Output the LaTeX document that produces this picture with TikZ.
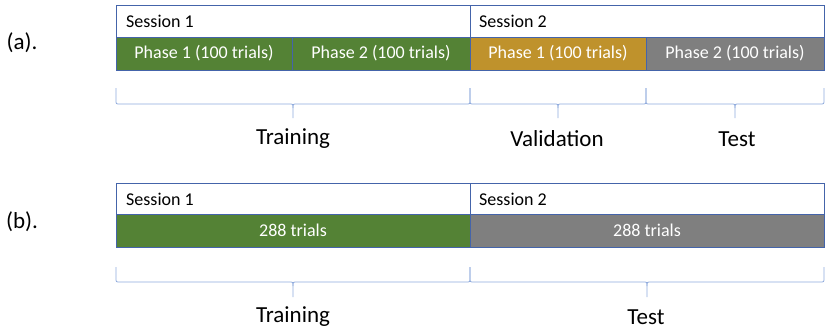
\documentclass[tikz,border=0pt]{standalone}
\usepackage{fontspec}
\setmainfont{Carlito}
\definecolor{cgreen}{RGB}{84,130,53}
\definecolor{cgold}{RGB}{191,146,44}
\definecolor{cgray}{RGB}{127,127,127}
\definecolor{cborder}{RGB}{68,100,170}
\definecolor{cbrace}{RGB}{143,170,220}
\begin{document}
\begin{tikzpicture}[x=1pt,y=-1pt,
  cell/.style={draw=cborder, line width=0.8pt, anchor=north west, inner sep=0pt, outer sep=0pt},
  sess/.style={cell, fill=white},
  ph/.style={cell, text=white, font=\fontsize{18}{21}\selectfont},
  sesstext/.style={anchor=west, inner sep=0pt, font=\fontsize{18}{21}\selectfont},
  lab/.style={font=\fontsize{23}{27}\selectfont, inner sep=0pt},
  brc/.style={draw=cbrace, line width=0.8pt}
]
\useasboundingbox (0,0) rectangle (830,333);
% panel labels
\node[lab] (la) at (22,43) {(a).};
\node[lab] (lb) at (22,222) {(b).};
% (a) session row
\node[sess, minimum width=354pt, minimum height=32pt] (s1a) at (116,5) {};
\node[sess, minimum width=354pt, minimum height=32pt] (s2a) at (470,5) {};
\node[sesstext] (t1a) at (126,21) {Session 1};
\node[sesstext] (t2a) at (479,21) {Session 2};
% (a) phases
\node[ph, fill=cgreen, minimum width=176pt, minimum height=33pt] (p1) at (116,37) {Phase 1 (100 trials)};
\node[ph, fill=cgreen, minimum width=178pt, minimum height=33pt] (p2) at (292,37) {Phase 2 (100 trials)};
\node[ph, fill=cgold, minimum width=176pt, minimum height=33pt] (p3) at (470,37) {Phase 1 (100 trials)};
\node[ph, fill=cgray, minimum width=178pt, minimum height=33pt] (p4) at (646,37) {Phase 2 (100 trials)};
% (b) session row
\node[sess, minimum width=354pt, minimum height=31pt] (s1b) at (116,183) {};
\node[sess, minimum width=354pt, minimum height=31pt] (s2b) at (470,183) {};
\node[sesstext] (t1b) at (126,199) {Session 1};
\node[sesstext] (t2b) at (479,199) {Session 2};
\node[ph, fill=cgreen, minimum width=354pt, minimum height=33pt] (q1) at (116,214) {288 trials};
\node[ph, fill=cgray, minimum width=354pt, minimum height=33pt] (q2) at (470,214) {288 trials};
% braces
\newcommand{\mybrace}[5]{% x1 x2 ytop ymid ytip
  \pgfmathsetmacro{\xm}{(#1+#2)/2}
  \draw[brc] (#1,#3) -- (#1,#4-4) .. controls (#1,#4) .. (#1+4,#4) -- (\xm-4,#4) .. controls (\xm,#4) .. (\xm,#4+4) -- (\xm,#5);
  \draw[brc] (#2,#3) -- (#2,#4-4) .. controls (#2,#4) .. (#2-4,#4) -- (\xm+4,#4) .. controls (\xm,#4) .. (\xm,#4+4);
}
\mybrace{116}{470}{88}{104}{118}
\mybrace{470}{646}{88}{104}{118}
\mybrace{646}{824}{88}{104}{118}
\mybrace{116}{470}{267}{282}{297}
\mybrace{470}{824}{267}{282}{297}
\node[lab] (tra) at (293,139) {Training};
\node[lab] (val) at (557,139) {Validation};
\node[lab] (tsa) at (737,139) {Test};
\node[lab] (trb) at (293,317) {Training};
\node[lab] (tsb) at (646,317) {Test};
\end{tikzpicture}
\end{document}
